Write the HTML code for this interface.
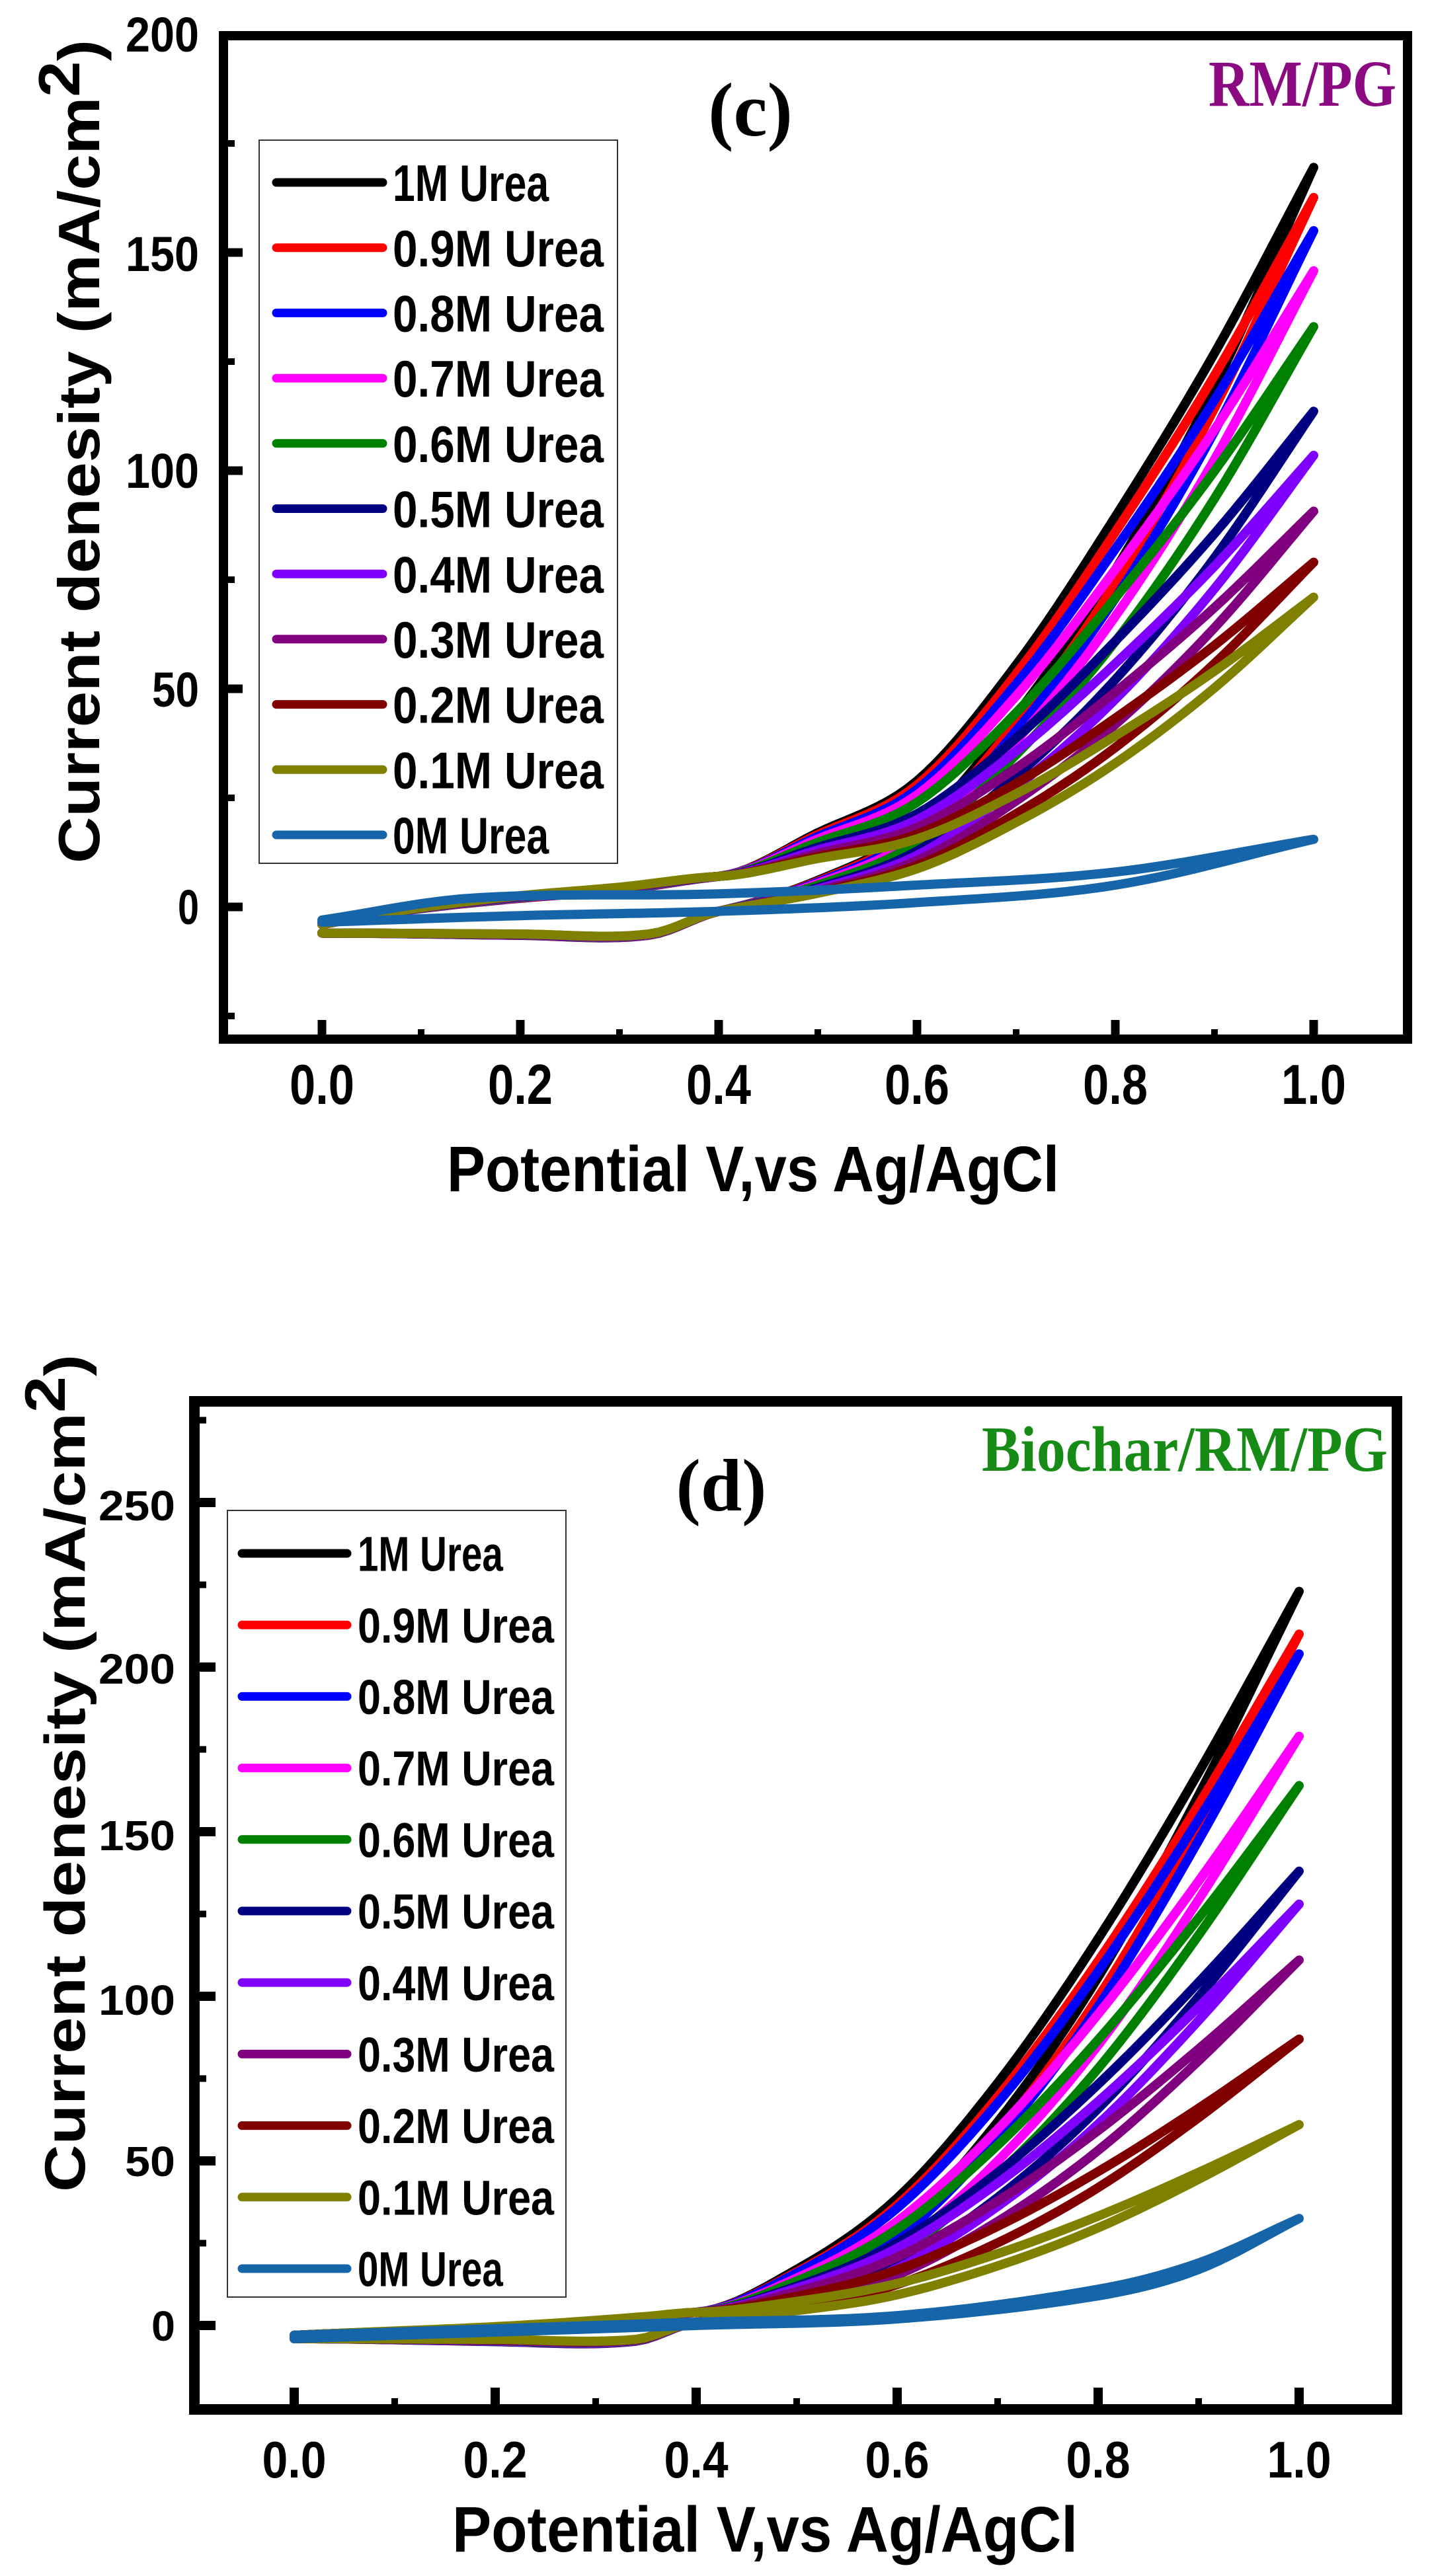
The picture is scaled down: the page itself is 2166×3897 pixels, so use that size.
<!DOCTYPE html>
<html><head><meta charset="utf-8"><style>
html,body{margin:0;padding:0;background:#fff;}
svg{display:block;}
text{font-family:"Liberation Sans",Arial,sans-serif;font-weight:bold;fill:#000;}
.t{font-family:"Liberation Serif","Times New Roman",serif;font-weight:bold;}
</style></head><body>
<svg id="s" width="2166" height="3897" viewBox="0 0 2166 3897" xmlns="http://www.w3.org/2000/svg">
<rect width="2166" height="3897" fill="#fff"/>
<g id="curves"></g>
<rect x="338" y="54" width="1791" height="1518" fill="none" stroke="#000" stroke-width="14"/>
<g id="ticks"></g>
<g font-size="74" text-anchor="end">
<text x="301" y="78" textLength="111" lengthAdjust="spacingAndGlyphs">200</text>
<text x="301" y="410" textLength="111" lengthAdjust="spacingAndGlyphs">150</text>
<text x="301" y="738" textLength="111" lengthAdjust="spacingAndGlyphs">100</text>
<text x="301" y="1069" textLength="71" lengthAdjust="spacingAndGlyphs">50</text>
<text x="301" y="1398" textLength="32" lengthAdjust="spacingAndGlyphs">0</text>
</g>
<g font-size="85" text-anchor="middle">
<text x="487" y="1670" textLength="98" lengthAdjust="spacingAndGlyphs">0.0</text>
<text x="787" y="1670" textLength="98" lengthAdjust="spacingAndGlyphs">0.2</text>
<text x="1087" y="1670" textLength="98" lengthAdjust="spacingAndGlyphs">0.4</text>
<text x="1387" y="1670" textLength="98" lengthAdjust="spacingAndGlyphs">0.6</text>
<text x="1687" y="1670" textLength="98" lengthAdjust="spacingAndGlyphs">0.8</text>
<text x="1987" y="1670" textLength="98" lengthAdjust="spacingAndGlyphs">1.0</text>
</g>
<text x="676" y="1802" font-size="97" textLength="926" lengthAdjust="spacingAndGlyphs">Potential V,vs Ag/AgCl</text>
<text transform="translate(150,1306) rotate(-90)" font-size="88" textLength="1246" lengthAdjust="spacingAndGlyphs">Current denesity (mA/cm<tspan dy="-30">2</tspan><tspan dy="30">)</tspan></text>
<text class="t" x="1135" y="205" font-size="115" text-anchor="middle">(c)</text>
<text class="t" x="1828" y="160" font-size="100" textLength="284" lengthAdjust="spacingAndGlyphs" style="fill:#8B0A82">RM/PG</text>
<rect x="392" y="212" width="542" height="1094" fill="#fff" stroke="#333" stroke-width="2"/>
<g id="legc"></g>

<rect x="294" y="2120" width="1819" height="1525" fill="none" stroke="#000" stroke-width="16"/>
<g font-size="64" text-anchor="end">
<text x="265" y="2300" textLength="116" lengthAdjust="spacingAndGlyphs">250</text>
<text x="265" y="2547" textLength="116" lengthAdjust="spacingAndGlyphs">200</text>
<text x="265" y="2799" textLength="116" lengthAdjust="spacingAndGlyphs">150</text>
<text x="265" y="3048" textLength="116" lengthAdjust="spacingAndGlyphs">100</text>
<text x="265" y="3292" textLength="76" lengthAdjust="spacingAndGlyphs">50</text>
<text x="265" y="3541" textLength="36" lengthAdjust="spacingAndGlyphs">0</text>
</g>
<g font-size="78" text-anchor="middle">
<text x="445" y="3748" textLength="97" lengthAdjust="spacingAndGlyphs">0.0</text>
<text x="749" y="3748" textLength="97" lengthAdjust="spacingAndGlyphs">0.2</text>
<text x="1053" y="3748" textLength="97" lengthAdjust="spacingAndGlyphs">0.4</text>
<text x="1357" y="3748" textLength="97" lengthAdjust="spacingAndGlyphs">0.6</text>
<text x="1661" y="3748" textLength="97" lengthAdjust="spacingAndGlyphs">0.8</text>
<text x="1965" y="3748" textLength="97" lengthAdjust="spacingAndGlyphs">1.0</text>
</g>
<text x="684" y="3860" font-size="97" textLength="946" lengthAdjust="spacingAndGlyphs">Potential V,vs Ag/AgCl</text>
<text transform="translate(128,3316) rotate(-90)" font-size="86" textLength="1267" lengthAdjust="spacingAndGlyphs">Current denesity (mA/cm<tspan dy="-30">2</tspan><tspan dy="30">)</tspan></text>
<text class="t" x="1091" y="2285" font-size="112" text-anchor="middle">(d)</text>
<text class="t" x="1485" y="2225" font-size="98" textLength="614" lengthAdjust="spacingAndGlyphs" style="fill:#168C16">Biochar/RM/PG</text>
<rect x="344" y="2285" width="512" height="1190" fill="#fff" stroke="#333" stroke-width="2"/>
<g id="legd"></g>
</svg>
<script>
var NS="http://www.w3.org/2000/svg";
var cols=["#000000","#FF0000","#0000FF","#FF00FF","#008000","#000080","#8000FF","#800080","#800000","#808000","#1565A8"];
var names=["1M Urea","0.9M Urea","0.8M Urea","0.7M Urea","0.6M Urea","0.5M Urea","0.4M Urea","0.3M Urea","0.2M Urea","0.1M Urea","0M Urea"];
function el(t,a,p){var e=document.createElementNS(NS,t);for(var k in a)e.setAttribute(k,a[k]);p.appendChild(e);return e;}
function cr(k,v){var n=k.length;var i=0;while(i<n-2&&v>k[i+1][0])i++;var p0=k[Math.max(i-1,0)],p1=k[i],p2=k[i+1],p3=k[Math.min(i+2,n-1)];var t=(v-p1[0])/(p2[0]-p1[0]);var m1=(p2[1]-p0[1])/((p2[0]-p0[0])||1)*(p2[0]-p1[0]);var m2=(p3[1]-p1[1])/((p3[0]-p1[0])||1)*(p2[0]-p1[0]);var t2=t*t,t3=t2*t;return (2*t3-3*t2+1)*p1[1]+(t3-2*t2+t)*m1+(-2*t3+3*t2)*p2[1]+(t3-t2)*m2;}
var g=document.getElementById("curves");
function panel(X,Y,ends,bU,gU,bL,gL,z0U,z0L,sw){
 for(var s=0;s<11;s++){
  var pts=[],v;
  if(s<10){var E=ends[s];
   for(v=0;v<=1.0001;v+=0.01){pts.push(X(v).toFixed(1)+","+Y(cr(bU,v)+E*cr(gU,v)).toFixed(1));}
   for(v=1;v>=-0.0001;v-=0.01){pts.push(X(v).toFixed(1)+","+Y(cr(bL,v)+E*cr(gL,v)).toFixed(1));}
  }else{
   for(v=0;v<=1.0001;v+=0.01){pts.push(X(v).toFixed(1)+","+Y(cr(z0U,v)).toFixed(1));}
   for(v=1;v>=-0.0001;v-=0.01){pts.push(X(v).toFixed(1)+","+Y(cr(z0L,v)).toFixed(1));}
  }
  el("polyline",{points:pts.join(" "),fill:"none",stroke:cols[s],"stroke-width":sw,"stroke-linejoin":"round","stroke-linecap":"round"},g);
 }
}
panel(function(v){return 487+1500*v;},function(y){return 1372-6.6*y;},
 [169.5,162.6,155,145.8,133,113.6,103.5,90.7,79,71],
 [[0,-4],[0.1,0],[0.2,3],[0.3,5],[0.4,7],[0.6,6],[0.8,3],[1,0]],
 [[0,0],[0.4,0],[0.5,0.06],[0.6,0.135],[0.7,0.3],[0.8,0.51],[0.9,0.74],[1,1]],
 [[0,-6],[0.2,-6],[0.33,-6],[0.4,-1],[0.5,1],[0.6,2],[0.8,1],[1,0]],
 [[0,0],[0.4,0],[0.5,0.03],[0.6,0.095],[0.7,0.25],[0.8,0.45],[0.9,0.7],[1,1]],
 [[0,-3],[0.15,2],[0.4,3],[0.6,5],[0.8,8],[1,15.5]],
 [[0,-3.5],[0.2,-2],[0.4,-1],[0.6,1],[0.8,5],[1,15.5]],14);
panel(function(v){return 445+1520*v;},function(y){return 3518-4.98*y;},
 [223,210,204,179,164,138,128,111,87,61],
 [[0,-3],[0.2,0],[0.35,3],[0.4,4],[0.6,3],[0.8,1.5],[1,0]],
 [[0,0],[0.4,0],[0.5,0.06],[0.6,0.16],[0.7,0.32],[0.8,0.52],[0.9,0.75],[1,1]],
 [[0,-4],[0.2,-4],[0.34,-4],[0.4,1],[0.6,2],[0.8,1],[1,0]],
 [[0,0],[0.4,0],[0.5,0.04],[0.6,0.12],[0.7,0.27],[0.8,0.47],[0.9,0.72],[1,1]],
 [[0,-3],[0.4,1],[0.6,3],[0.8,11],[0.9,19],[1,32.5]],
 [[0,-4],[0.4,0],[0.6,2],[0.8,9],[0.9,17],[1,32.5]],14);
var tk=document.getElementById("ticks");
function tick(x1,y1,x2,y2,w){el("line",{x1:x1,y1:y1,x2:x2,y2:y2,stroke:"#000","stroke-width":w},tk);}
var i;
for(i=0;i<=10;i++){var x=487+150*i;tick(x,1565,x,(i%2?1557:1543),(i%2?10:13));}
for(i=-1;i<=8;i++){var y=1372-6.6*25*i;if(y<60||y>1566)continue;tick(345,y,(i%2?355:367),y,(i%2?10:13));}
for(i=0;i<=10;i++){var x=445+152*i;tick(x,3637,x,(i%2?3628:3612),(i%2?10:14));}
for(i=-1;i<=11;i++){var y=3518-4.98*25*i;if(y<2128||y>3637)continue;tick(302,y,(i%2?312:326),y,(i%2?10:14));}
function leg(id,x1,x2,tx,y0,dy,fs,sw,tl){var L=document.getElementById(id);
 for(var s=0;s<11;s++){var y=y0+dy*s;
  el("line",{x1:x1,y1:y,x2:x2,y2:y,stroke:cols[s],"stroke-width":sw,"stroke-linecap":"round"},L);
  var t=el("text",{x:tx,y:y+fs*0.36,"font-size":fs,textLength:(names[s].length==7?tl*0.74:tl),lengthAdjust:"spacingAndGlyphs"},L);
  t.textContent=names[s];}}
leg("legc",418,579,594,276,98.7,78,13,319);
leg("legd",366,525,541,2350,108.2,74,13,297);
</script>
</body></html>
